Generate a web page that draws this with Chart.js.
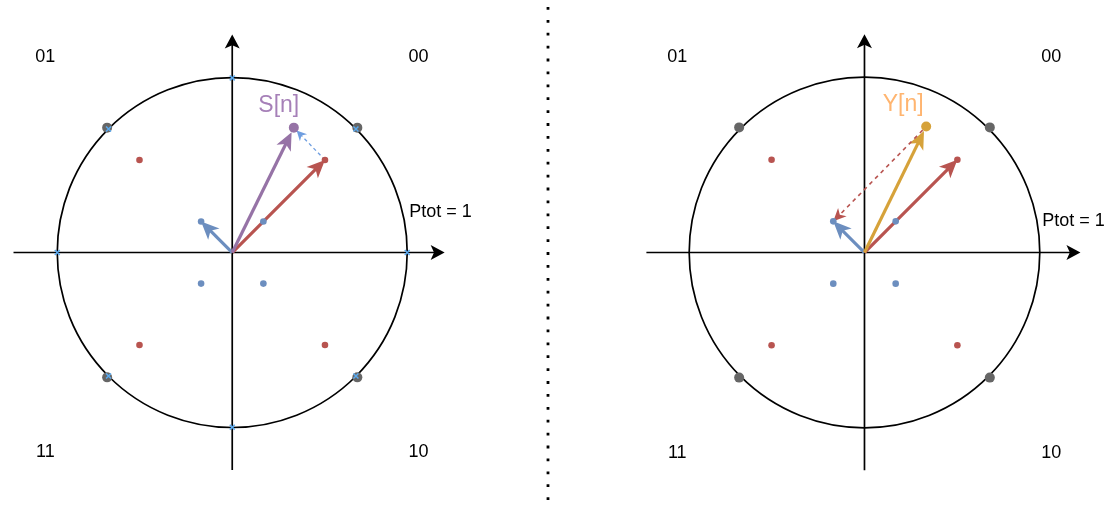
<html>
<head>
<script src="https://cdn.jsdelivr.net/npm/chart.js@4.4.0/dist/chart.umd.min.js"></script>
<style>
body { margin: 0; background: #fff; }
canvas { position: absolute; top: 0; }
</style>
</head>
<body>
<canvas id="left" width="557" height="506" style="left:0px"></canvas>
<canvas id="right" width="558" height="506" style="left:557px"></canvas>

<script>
// amplitudes, the circle is Ptot = 1
const ptot = 1
const grayX = [0.715, -0.715, -0.715, 0.715]
const grayY = [0.715, 0.715, -0.715, -0.715]
const redX = [0.53, -0.53, -0.53, 0.53]
const redY = [0.53, 0.53, -0.53, -0.53]
const blueX = [0.178, -0.178, -0.178, 0.178]
const blueY = [0.178, 0.178, -0.178, -0.178]
const crossX = [1, 0.707, 0, -0.707, -1, -0.707, 0, 0.707]
const crossY = [0, 0.707, 1, 0.707, 0, -0.707, -1, -0.707]
const sPoint = [0.352, 0.715]
const yPoint = [0.352, 0.72]

// axis ends
const leftAxisX = [-1.25, 1.214]
const rightAxisX = [-1.244, 1.232]
const axisY = [-1.245, 1.248]

// labels
const quadLabels = ['00', '01', '11', '10']
const quadX = [1.065, -1.068, -1.068, 1.065]
const quadY = [1.12, 1.12, -1.144, -1.144]
const ptotLabel = 'Ptot = ' + ptot
const leftPtotPos = [1.012, 0.232]
const rightPtotPos = [1.014, 0.182]
const sLabel = 'S[n]'
const sLabelPos = [0.266, 0.84]
const yLabel = 'Y[n]'
const yLabelPos = [0.221, 0.846]

const RED = '#b85450'
const BLUE = '#6c8ebf'
const PURPLE = '#9673a6'
const GOLD = '#d6a23a'
const GRAY = '#666666'
const FONT = '"Liberation Sans", Arial, Helvetica, sans-serif'

const PX_PER_UNIT = 178.5
const CENTER_Y = 252.5

function pts(xs, ys) {
  return xs.map((x, i) => ({ x, y: ys[i] }))
}

function dots(xs, ys, color, r, order) {
  return {
    data: pts(xs, ys),
    showLine: false,
    pointRadius: r,
    pointHoverRadius: r,
    pointBackgroundColor: color,
    pointBorderWidth: 0,
    order,
  }
}

function crosses() {
  return {
    data: pts(crossX, crossY),
    showLine: false,
    pointStyle: 'crossRot',
    pointRadius: 3.5,
    pointBorderColor: '#5aaaf0',
    pointBorderWidth: 1.5,
    order: 0,
  }
}

function arrow(from, to, style) {
  return {
    data: [{ x: from[0], y: from[1] }, { x: to[0], y: to[1] }],
    showLine: false,
    pointRadius: 0,
    pointHoverRadius: 0,
    arrow: style,
    order: 10,
  }
}

const axisStyle = { color: '#000', width: 1.7, len: 14, half: 7.5, notch: 0.76 }
const bigStyle = (color, gapEnd) => ({ color, width: 3.2, len: 18, half: 8, notch: 0.74, gapEnd: gapEnd || 0 })

function drawArrow(ctx, x0, y0, x1, y1, st) {
  let dx = x1 - x0, dy = y1 - y0
  let d = Math.hypot(dx, dy)
  let ux = dx / d, uy = dy / d
  let px = -uy, py = ux
  let sx = x0 + ux * (st.gapStart || 0), sy = y0 + uy * (st.gapStart || 0)
  let ex = x1 - ux * (st.gapEnd || 0), ey = y1 - uy * (st.gapEnd || 0)
  let nx = ex - ux * st.len * st.notch, ny = ey - uy * st.len * st.notch

  ctx.save()
  ctx.strokeStyle = st.color
  ctx.fillStyle = st.color
  ctx.lineWidth = st.width
  ctx.setLineDash(st.dash || [])
  ctx.beginPath()
  ctx.moveTo(sx, sy)
  ctx.lineTo(nx + ux, ny + uy)
  ctx.stroke()
  ctx.setLineDash([])
  ctx.beginPath()
  ctx.moveTo(ex, ey)
  ctx.lineTo(ex - ux * st.len + px * st.half, ey - uy * st.len + py * st.half)
  ctx.lineTo(nx, ny)
  ctx.lineTo(ex - ux * st.len - px * st.half, ey - uy * st.len - py * st.half)
  ctx.closePath()
  ctx.fill()
  ctx.restore()
}

function makeDiagram(texts, separator) {
  return {
    id: 'diagram',
    beforeDatasetsDraw(chart) {
      const ctx = chart.ctx
      const sx = chart.scales.x, sy = chart.scales.y
      const cx = sx.getPixelForValue(0), cy = sy.getPixelForValue(0)
      const r = sx.getPixelForValue(ptot) - cx

      ctx.save()
      if (separator) {
        ctx.strokeStyle = '#000'
        ctx.lineWidth = 2.8
        ctx.setLineDash([2.8, 10.1])
        ctx.beginPath()
        ctx.moveTo(548, 7)
        ctx.lineTo(548, chart.height)
        ctx.stroke()
        ctx.setLineDash([])
      }
      ctx.strokeStyle = '#000'
      ctx.lineWidth = 1.7
      ctx.beginPath()
      ctx.arc(cx, cy, r, 0, 2 * Math.PI)
      ctx.stroke()
      ctx.restore()

      chart.data.datasets.forEach((ds, i) => {
        if (!ds.arrow) return
        const m = chart.getDatasetMeta(i).data
        drawArrow(ctx, m[0].x, m[0].y, m[1].x, m[1].y, ds.arrow)
      })
    },
    afterDatasetsDraw(chart) {
      const ctx = chart.ctx
      const sx = chart.scales.x, sy = chart.scales.y
      ctx.save()
      ctx.textBaseline = 'middle'
      for (let t of texts) {
        ctx.font = `${t.size}px ${FONT}`
        ctx.fillStyle = t.color
        ctx.textAlign = t.align || 'center'
        ctx.fillText(t.text, sx.getPixelForValue(t.x), sy.getPixelForValue(t.y))
      }
      ctx.restore()
    },
  }
}

function quadTexts() {
  return quadLabels.map((q, i) => ({ text: q, x: quadX[i], y: quadY[i], size: 18, color: '#000' }))
}

function renderPanel(elId, centerPx, datasets, texts, separator) {
  const canvas = document.getElementById(elId)
  const w = canvas.width, h = canvas.height
  return new Chart(canvas.getContext('2d'), {
    type: 'scatter',
    data: { datasets },
    options: {
      responsive: false,
      animation: false,
      layout: { padding: 0 },
      plugins: { legend: { display: false }, tooltip: { enabled: false } },
      events: [],
      scales: {
        x: { type: 'linear', display: false, min: -centerPx / PX_PER_UNIT, max: (w - centerPx) / PX_PER_UNIT },
        y: { type: 'linear', display: false, min: -(h - CENTER_Y) / PX_PER_UNIT, max: CENTER_Y / PX_PER_UNIT },
      },
    },
    plugins: [makeDiagram(texts, separator)],
  })
}

const origin = [0, 0]
const redTip = [redX[0], redY[0]]
const blueTip = [blueX[1], blueY[1]]

let leftSets = [
  arrow([leftAxisX[0], 0], [leftAxisX[1], 0], axisStyle),
  arrow([0, axisY[0]], [0, axisY[1]], axisStyle),
  arrow(origin, blueTip, bigStyle(BLUE)),
  arrow(origin, redTip, bigStyle(RED)),
  arrow(origin, sPoint, bigStyle(PURPLE, 5)),
  arrow(redTip, sPoint, { color: '#6f9ee0', width: 1.3, len: 10, half: 5, notch: 0.7, gapEnd: 4, dash: [3.5, 3] }),
  dots(grayX, grayY, GRAY, 5, 3),
  dots(redX, redY, RED, 3.3, 2),
  dots(blueX, blueY, BLUE, 3.3, 2),
  crosses(),
  dots([sPoint[0]], [sPoint[1]], PURPLE, 5, 0),
]
let leftTexts = quadTexts().concat([
  { text: ptotLabel, x: leftPtotPos[0], y: leftPtotPos[1], size: 18, color: '#000', align: 'left' },
  { text: sLabel, x: sLabelPos[0], y: sLabelPos[1], size: 23, color: '#a680b8' },
])

let rightSets = [
  arrow([rightAxisX[0], 0], [rightAxisX[1], 0], axisStyle),
  arrow([0, axisY[0]], [0, axisY[1]], axisStyle),
  arrow(origin, blueTip, bigStyle(BLUE)),
  arrow(origin, redTip, bigStyle(RED)),
  arrow(origin, yPoint, bigStyle(GOLD, 5)),
  arrow(yPoint, blueTip, { color: RED, width: 1.6, len: 13, half: 6, notch: 0.72, gapStart: 5, dash: [4, 4] }),
  dots(grayX, grayY, GRAY, 5, 3),
  dots(redX, redY, RED, 3.3, 2),
  dots(blueX, blueY, BLUE, 3.3, 2),
  dots([yPoint[0]], [yPoint[1]], GOLD, 5, 0),
]
let rightTexts = quadTexts().concat([
  { text: ptotLabel, x: rightPtotPos[0], y: rightPtotPos[1], size: 18, color: '#000', align: 'left' },
  { text: yLabel, x: yLabelPos[0], y: yLabelPos[1], size: 23, color: '#ffb570' },
])

renderPanel('left', 231.3, leftSets, leftTexts, true)
renderPanel('right', 865 - 557, rightSets, rightTexts, false)
</script>
</body>
</html>
